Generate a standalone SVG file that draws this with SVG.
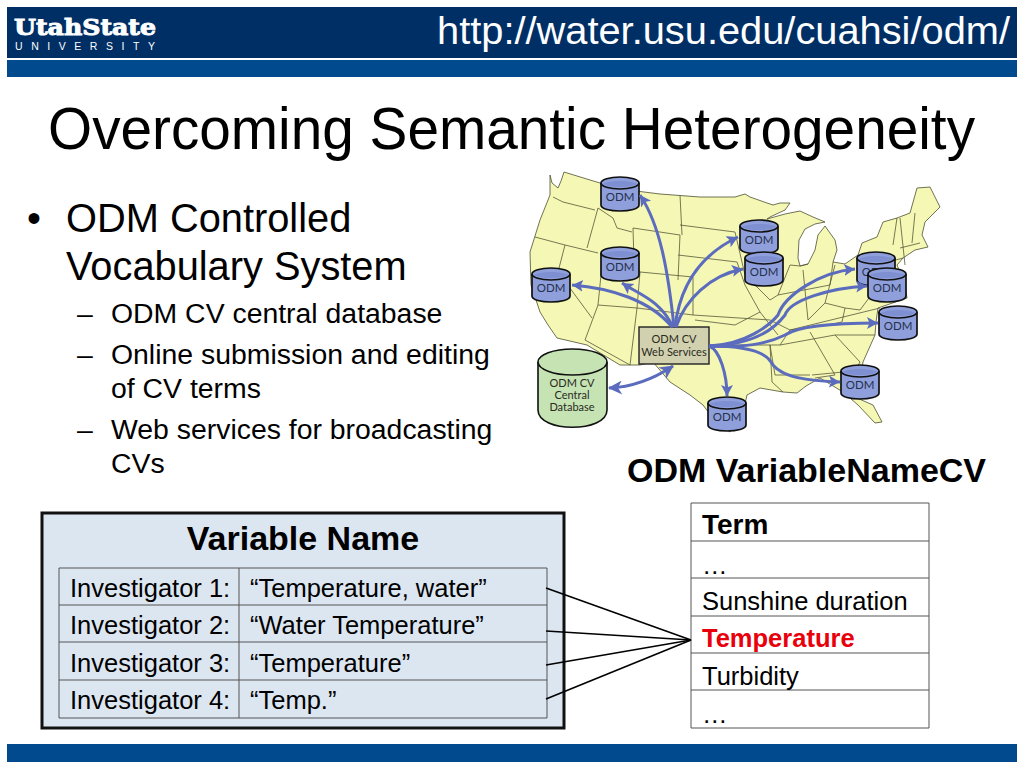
<svg xmlns="http://www.w3.org/2000/svg" xmlns:xlink="http://www.w3.org/1999/xlink" width="1024" height="768" viewBox="0 0 1024 768">
<style>
text{font-family:"Liberation Sans",Arial,sans-serif;fill:#000}
.bar{fill:#004a8d}
.b1{font-size:39.800px}
.b2{font-size:28.400px}
.cell{font-size:25.500px}
.bold{font-weight:bold}
.grid{fill:none;stroke:#555;stroke-width:1}
.state{fill:none;stroke:#55583a;stroke-width:.8}
.flow{fill:none;stroke:#5b6bbd;stroke-width:3;marker-end:url(#ah)}
.small{font-size:11.500px;fill:#26304a;text-anchor:middle;font-family:Lato,"Liberation Sans",sans-serif}
.mid{font-size:11px;fill:#2a2a1e;text-anchor:middle;font-family:Lato,"Liberation Sans",sans-serif}
.lnk{stroke:#000;stroke-width:1.600;fill:none}
.cb{fill:#8e9fdc;stroke:#111;stroke-width:1.700}
</style>
<defs>
<marker id="ah" markerUnits="userSpaceOnUse" markerWidth="14" markerHeight="14" refX="11" refY="6" orient="auto"><path d="M0 0L11 6L0 12L2.500 6Z" fill="#5b6bbd"/></marker>
<marker id="as" markerUnits="userSpaceOnUse" markerWidth="16" markerHeight="16" refX="1" refY="7" orient="auto"><path d="M14 0L0 7L14 14L10 7Z" fill="#5b6bbd"/></marker>
<marker id="ae" markerUnits="userSpaceOnUse" markerWidth="16" markerHeight="16" refX="13" refY="7" orient="auto"><path d="M0 0L14 7L0 14L4 7Z" fill="#5b6bbd"/></marker>
<g id="cyl">
<path class="cb" d="M-19 -11V11C-19 19 19 19 19 11V-11"/>
<ellipse class="cb" cx="0" cy="-11" rx="19" ry="6"/>
<path d="M-17 -10C-12 -6 12 -6 17 -10C12 -14 -12 -14 -17 -10Z" fill="#7f90d2"/>
</g>
</defs>
<g id="header">
<rect x="7" y="7" width="1010" height="51" fill="#002f66"/>
<rect class="bar" x="7" y="60" width="1010" height="17"/>
<text x="14" y="35" font-size="23" font-weight="900" textLength="142" lengthAdjust="spacingAndGlyphs" stroke="#fff" stroke-width="1" style="font-family:'DejaVu Serif',serif;fill:#fff">UtahState</text>
<text x="15" y="50" font-size="10.500" textLength="140" style="fill:#fff">UNIVERSITY</text>
<text x="1010" y="44" font-size="38" text-anchor="end" textLength="573" lengthAdjust="spacingAndGlyphs" style="fill:#fff">http://water.usu.edu/cuahsi/odm/</text>
</g>
<rect id="footer" class="bar" x="7" y="744" width="1010" height="18"/>
<text x="48" y="149" font-size="59" textLength="927" lengthAdjust="spacingAndGlyphs">Overcoming Semantic Heterogeneity</text>
<g id="bullets">
<text x="27" y="232" class="b1">•</text>
<text x="66" y="232" class="b1">ODM Controlled</text>
<text x="66" y="280" class="b1">Vocabulary System</text>
<text x="77" y="323" class="b2">–</text><text x="111" y="323" class="b2">ODM CV central database</text>
<text x="77" y="364" class="b2">–</text><text x="111" y="364" class="b2">Online submission and editing</text>
<text x="111" y="398" class="b2">of CV terms</text>
<text x="77" y="439" class="b2">–</text><text x="111" y="439" class="b2">Web services for broadcasting</text>
<text x="111" y="473" class="b2">CVs</text>
</g>
<g id="map">
<path fill="#f5f7b4" stroke="#4c4f30" stroke-width=".8" d="M550 175L552 183L558 188L561 181L564 172L590 180L620 189L660 194L700 197L735 197L745 194L750 197L767 203L773 205L780 203L790 203L785 210L770 217L767 219L785 214L800 211L813 217L825 222L815 224L805 229L799 240L798 258L800 266L808 264L815 250L818 235L825 226L835 240L837 250L833 262L845 264L858 255L862 243L877 237L883 222L897 218L910 213L917 188L930 187L940 207L925 222L922 235L928 247L915 250L903 258L897 265L905 285L907 298L878 308L876 322L875 335L863 362L857 398L873 405L882 422L875 423L858 405L843 392L820 378L806 386L797 393L783 392L760 388L747 395L742 418L730 432L718 425L703 405L690 395L670 382L653 362L640 365L620 365L587 345L557 338L548 325L540 312L531 285L530 252L540 220L550 195Z"/>
<path class="state" d="M553 197L563 202L595 210M535 237L565 245L598 253M598 208L587 248M598 208L613 218L617 228L632 232M565 245L558 272L592 318M603 255L598 305L585 340L630 365M598 305L637 308L630 365M640 272L637 308M633 228L680 235L678 280M633 228L634 262L640 272L693 277L693 315L637 308M682 235L680 195M680 225L735 232M678 255L737 262M693 315L770 320L790 330L780 345L770 345L772 382L783 392M695 320L735 325L760 312L745 285L737 262M760 312L778 335M735 232L745 275L770 300L778 295L790 265M790 265L800 266L808 264M778 295L830 285L833 262M803 270L808 320M808 320L825 303L835 265M825 303L845 308L860 310L875 290M845 308L842 322L828 325L790 330M790 330L880 308M780 345L835 335L875 335M810 332L835 375L815 378M770 345L775 375L810 375M835 335L860 362M860 362L843 392M812 375L843 372M900 218L905 265M897 218L893 245M915 213L912 243M920 243L900 248M885 263L903 258M880 290L905 285M705 345L770 345"/>
</g>
<g id="odm1" transform="translate(620 194)"><use href="#cyl"/><text class="small" y="7">ODM</text></g>
<g id="odm2" transform="translate(620 264)"><use href="#cyl"/><text class="small" y="7">ODM</text></g>
<g id="odm3" transform="translate(551 285)"><use href="#cyl"/><text class="small" y="7">ODM</text></g>
<g id="odm4" transform="translate(727 414)"><use href="#cyl"/><text class="small" y="7">ODM</text></g>
<g id="odm5" transform="translate(759 237)"><use href="#cyl"/><text class="small" y="7">ODM</text></g>
<g id="odm6" transform="translate(764 269)"><use href="#cyl"/><text class="small" y="7">ODM</text></g>
<g id="odm7" transform="translate(876 269)"><use href="#cyl"/><text class="small" y="7">ODM</text></g>
<g id="odm8" transform="translate(887 285)"><use href="#cyl"/><text class="small" y="7">ODM</text></g>
<g id="odm9" transform="translate(898 323)"><use href="#cyl"/><text class="small" y="7">ODM</text></g>
<g id="odm10" transform="translate(860 382)"><use href="#cyl"/><text class="small" y="7">ODM</text></g>
<g id="central-db">
<path fill="#c6e3b4" stroke="#111" stroke-width="1.600" d="M538 362V410C538 433 607 433 607 410V362"/>
<ellipse cx="572.500" cy="362" rx="34.500" ry="13" fill="#c6e3b4" stroke="#111" stroke-width="1.600"/>
<text class="mid" x="572" y="387">ODM CV</text>
<text class="mid" x="572" y="399">Central</text>
<text class="mid" x="572" y="411">Database</text>
</g>
<g id="web-services">
<rect x="639" y="327" width="70" height="37" fill="#d2d1af" stroke="#222" stroke-width="1.400"/>
<text class="mid" x="674" y="343">ODM CV</text>
<text class="mid" x="674" y="356">Web Services</text>
</g>
<g id="variable-name">
<rect x="42" y="513" width="522" height="215" fill="#dce6f1" stroke="#111" stroke-width="3"/>
<text x="303" y="550" font-size="34" font-weight="bold" text-anchor="middle">Variable Name</text>
<path class="grid" d="M59 568H547V718H59ZM59 605H547M59 642H547M59 680H547M239 568V718"/>
<text class="cell" x="70" y="597">Investigator 1:</text><text class="cell" x="250" y="597">“Temperature, water”</text>
<text class="cell" x="70" y="634">Investigator 2:</text><text class="cell" x="250" y="634">“Water Temperature”</text>
<text class="cell" x="70" y="672">Investigator 3:</text><text class="cell" x="250" y="672">“Temperature”</text>
<text class="cell" x="70" y="709">Investigator 4:</text><text class="cell" x="250" y="709">“Temp.”</text>
</g>
<g id="cv-table">
<text x="627" y="482" font-size="34" font-weight="bold">ODM VariableNameCV</text>
<path class="grid" d="M691 503H929V728H691ZM691 541H929M691 578H929M691 616H929M691 653H929M691 690H929"/>
<text x="702" y="534" font-size="28" font-weight="bold">Term</text>
<text class="cell" x="702" y="574">…</text>
<text class="cell" x="702" y="610">Sunshine duration</text>
<text class="cell bold" x="702" y="647" style="fill:#e8000b">Temperature</text>
<text class="cell" x="702" y="685">Turbidity</text>
<text class="cell" x="702" y="723">…</text>
</g>
<g id="connectors">
<path class="flow" d="M674 327C668 270 660 225 640 195"/>
<path class="flow" d="M673 327C660 300 640 295 622 283"/>
<path class="flow" d="M672 327C650 300 610 288 572 285"/>
<path class="flow" d="M675 327C680 285 700 255 738 237"/>
<path class="flow" d="M676 327C685 300 710 275 743 269"/>
<path class="flow" d="M709 346C745 345 770 325 778 315C785 295 820 272 855 269"/>
<path class="flow" d="M709 346C745 345 770 335 785 315C790 300 830 288 867 286"/>
<path class="flow" d="M709 346C745 347 765 345 785 335C800 325 840 323 878 323"/>
<path class="flow" d="M709 346C745 346 765 352 771 362C780 378 810 381 840 382"/>
<path class="flow" d="M709 346C720 350 727 375 727 396"/>
<path fill="none" stroke="#5b6bbd" stroke-width="3" marker-start="url(#as)" marker-end="url(#ae)" d="M609 388C635 387 655 378 673 366"/>
<line class="lnk" x1="546" y1="588" x2="691" y2="640"/>
<line class="lnk" x1="546" y1="631" x2="691" y2="640"/>
<line class="lnk" x1="546" y1="665" x2="691" y2="640"/>
<line class="lnk" x1="546" y1="699" x2="691" y2="640"/>
</g>
</svg>
